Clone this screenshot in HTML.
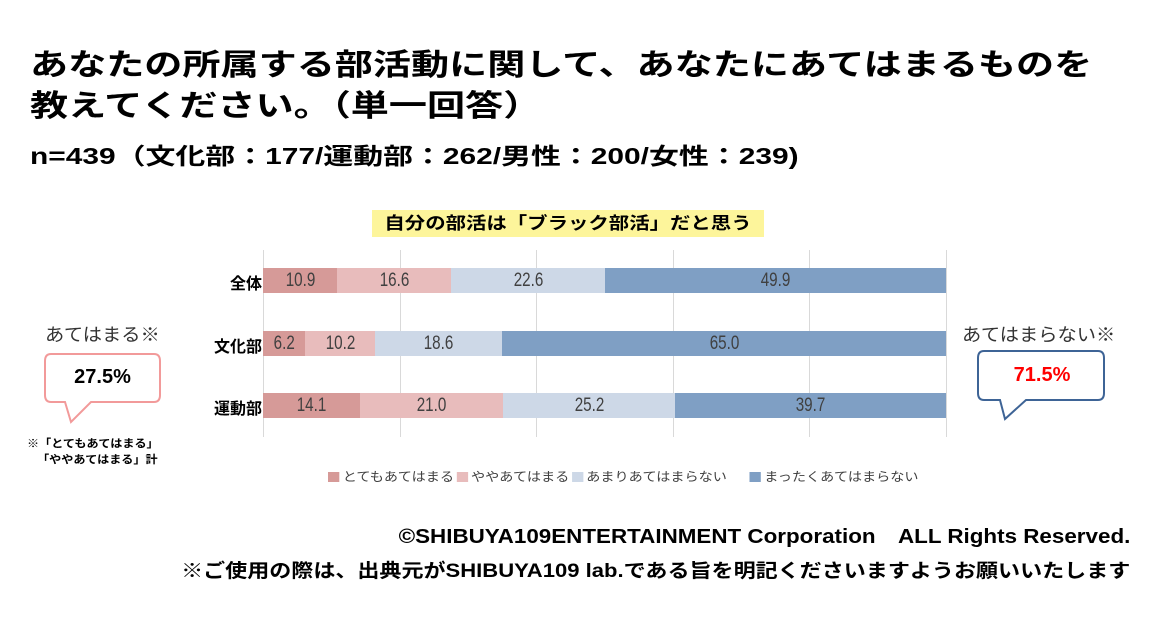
<!DOCTYPE html>
<html><head><meta charset="utf-8"><style>
body{margin:0;width:1160px;height:620px;background:#fff;position:relative;overflow:hidden;font-family:"Liberation Sans","Noto Sans CJK JP",sans-serif;color:#000}
.a{position:absolute;white-space:nowrap}
.t{font-size:30px;font-weight:bold;left:30px;transform:scaleX(1.27);transform-origin:0 0}
.bar{position:absolute;height:25px;font-size:19px;color:#404040;text-align:center;line-height:25px}
.bar span{display:inline-block;transform:scaleX(0.8)}
.g{position:absolute;top:250px;width:1px;height:187px;background:#d9d9d9}
.lab{position:absolute;font-size:16px;font-weight:bold;right:898px;text-align:right}
.lg{display:inline-block;width:10px;height:10px;margin-right:3px;vertical-align:-1px}
</style></head><body>
<div class="a t" style="top:40px">あなたの所属する部活動に関して、あなたにあてはまるものを</div>
<div class="a t" style="top:81px">教えてください。（単一回答）</div>
<div class="a" style="left:30px;top:137px;font-size:23px;font-weight:bold;transform:scaleX(1.3);transform-origin:0 0">n=439（文化部：177/運動部：262/男性：200/女性：239)</div>

<div class="a" style="left:372px;top:210px;width:392px;height:27px;background:#fdf59b;line-height:27px;text-align:center"><span style="display:inline-block;font-size:17px;font-weight:bold;transform:scaleX(1.2)">自分の部活は「ブラック部活」だと思う</span></div>

<div class="g" style="left:263px"></div><div class="g" style="left:400px"></div><div class="g" style="left:536px"></div><div class="g" style="left:673px"></div><div class="g" style="left:809px"></div><div class="g" style="left:946px"></div>

<div class="lab" style="top:270px">全体</div>
<div class="lab" style="top:333px">文化部</div>
<div class="lab" style="top:395px">運動部</div>

<div class="bar" style="top:268px;left:263px;width:74px;background:#d69a98"><span>10.9</span></div>
<div class="bar" style="top:268px;left:337px;width:114px;background:#e8bcbc"><span>16.6</span></div>
<div class="bar" style="top:268px;left:451px;width:154px;background:#cdd8e7"><span>22.6</span></div>
<div class="bar" style="top:268px;left:605px;width:341px;background:#7f9fc4"><span>49.9</span></div>

<div class="bar" style="top:331px;left:263px;width:42px;background:#d69a98"><span>6.2</span></div>
<div class="bar" style="top:331px;left:305px;width:70px;background:#e8bcbc"><span>10.2</span></div>
<div class="bar" style="top:331px;left:375px;width:127px;background:#cdd8e7"><span>18.6</span></div>
<div class="bar" style="top:331px;left:502px;width:444px;background:#7f9fc4"><span>65.0</span></div>

<div class="bar" style="top:393px;left:263px;width:97px;background:#d69a98"><span>14.1</span></div>
<div class="bar" style="top:393px;left:360px;width:143px;background:#e8bcbc"><span>21.0</span></div>
<div class="bar" style="top:393px;left:503px;width:172px;background:#cdd8e7"><span>25.2</span></div>
<div class="bar" style="top:393px;left:675px;width:271px;background:#7f9fc4"><span>39.7</span></div>

<div class="a" style="left:328px;top:466px;font-size:12.5px;color:#404040;transform:scaleX(1.13);transform-origin:0 0"><span class="lg" style="background:#d69a98"></span>とてもあてはまる<span class="lg" style="background:#e8bcbc;margin-left:2px"></span>ややあてはまる<span class="lg" style="background:#cdd8e7;margin-left:2px"></span>あまりあてはまらない<span class="lg" style="background:#7f9fc4;margin-left:20px"></span>まったくあてはまらない</div>

<div class="a" style="left:45px;top:321px;font-size:18px;color:#333;transform:scaleX(1.07);transform-origin:0 0">あてはまる※</div>
<svg class="a" style="left:44px;top:351px" width="120" height="75"><path d="M7,3 H110 Q116,3 116,10 V44 Q116,51 110,51 H47 L27,71 L21,51 H7 Q1,51 1,44 V10 Q1,3 7,3 Z" fill="#fff" stroke="#f29a9a" stroke-width="2"/></svg>
<div class="a" style="left:44px;top:366px;width:117px;text-align:center;font-size:20px;font-weight:bold">27.5%</div>
<div class="a" style="left:27px;top:436px;font-size:11px;font-weight:bold;line-height:16px;transform:scaleX(1.1);transform-origin:0 0">※「とてもあてはまる」<br>&nbsp;&nbsp;&nbsp;「ややあてはまる」計</div>

<div class="a" style="left:962px;top:321px;font-size:18px;color:#333;transform:scaleX(1.07);transform-origin:0 0">あてはまらない※</div>
<svg class="a" style="left:976px;top:348px" width="132" height="75"><path d="M8,3 H122 Q128,3 128,10 V45 Q128,52 122,52 H50 L29,71 L24,52 H8 Q2,52 2,45 V10 Q2,3 8,3 Z" fill="#fff" stroke="#3e6496" stroke-width="2"/></svg>
<div class="a" style="left:978px;top:364px;width:128px;text-align:center;font-size:20px;font-weight:bold;color:#f00">71.5%</div>

<div class="a" style="right:30px;top:520px;font-size:20px;font-weight:bold;transform:scaleX(1.12);transform-origin:100% 0">©SHIBUYA109ENTERTAINMENT Corporation　ALL Rights Reserved.</div>
<div class="a" style="right:30px;top:556px;font-size:19px;font-weight:bold;transform:scaleX(1.16);transform-origin:100% 0">※ご使用の際は、出典元がSHIBUYA109 lab.である旨を明記くださいますようお願いいたします</div>
</body></html>
